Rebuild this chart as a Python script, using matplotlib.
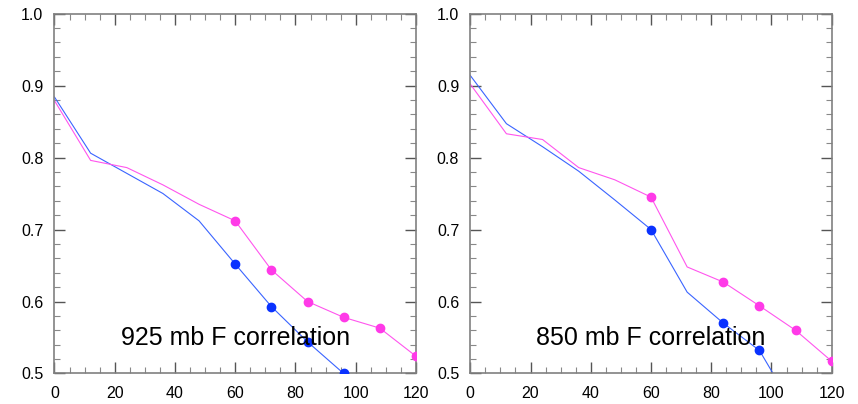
import matplotlib
matplotlib.use("Agg")
import matplotlib.pyplot as plt
from matplotlib.ticker import MultipleLocator

# Forecast hour
hours = [0, 12, 24, 36, 48, 60, 72, 84, 96, 108, 120]

# 925 mb correlation
blue_925 = [0.884, 0.806, 0.778, 0.750, 0.712, 0.652, 0.593, 0.544, 0.500, 0.455, 0.415]
mag_925 = [0.879, 0.796, 0.786, 0.762, 0.735, 0.712, 0.644, 0.600, 0.578, 0.563, 0.524]
marked_925 = [60, 72, 84, 96, 108, 120]

# 850 mb correlation
blue_850 = [0.914, 0.847, 0.815, 0.781, 0.741, 0.700, 0.613, 0.570, 0.532, 0.447, 0.400]
mag_850 = [0.902, 0.833, 0.825, 0.786, 0.769, 0.745, 0.648, 0.627, 0.594, 0.560, 0.517]
marked_850 = [60, 84, 96, 108, 120]

panel_titles = ["925 mb F correlation", "850 mb F correlation"]

BLUE_LINE = "#3a64ff"
BLUE_MARK = "#0a32ff"
MAG_LINE = "#ff55ee"
MAG_MARK = "#ff3ae8"

plt.rcParams["font.family"] = ["Liberation Sans", "DejaVu Sans"]

fig = plt.figure(figsize=(8.58, 4.04), dpi=100)
ax_l = fig.add_axes([0.0635, 0.0755, 0.4213, 0.891])
ax_r = fig.add_axes([0.5481, 0.0755, 0.4213, 0.891])

panels = [(ax_l, blue_925, mag_925, marked_925, panel_titles[0]),
          (ax_r, blue_850, mag_850, marked_850, panel_titles[1])]

for ax, blue, mag, marked, title in panels:
    ax.plot(hours, blue, color=BLUE_LINE, lw=0.8, zorder=2)
    ax.plot(hours, mag, color=MAG_LINE, lw=0.8, zorder=2)
    ax.plot(marked, [v for h, v in zip(hours, blue) if h in marked],
            ls="none", marker="o", ms=6, color=BLUE_MARK, zorder=3)
    ax.plot(marked, [v for h, v in zip(hours, mag) if h in marked],
            ls="none", marker="o", ms=6, color=MAG_MARK, zorder=3)

    ax.set_xlim(0, 120)
    ax.set_ylim(0.5, 1.0)
    ax.xaxis.set_major_locator(MultipleLocator(20))
    ax.xaxis.set_minor_locator(MultipleLocator(5))
    ax.yaxis.set_major_locator(MultipleLocator(0.1))
    ax.yaxis.set_minor_locator(MultipleLocator(0.02))
    ax.set_yticklabels([f"{v:.1f}" for v in ax.get_yticks()])
    ax.tick_params(which="both", direction="in", top=True, right=True,
                   labelsize=11.5, labelcolor="black")
    ax.tick_params(which="major", length=8, width=1.0, color="#555555")
    ax.tick_params(which="minor", length=4, width=0.8, color="#888888")
    ax.tick_params(axis="x", which="major", pad=9)
    ax.tick_params(axis="y", which="major", pad=8)
    for sp in ax.spines.values():
        sp.set_color("#808080")
        sp.set_linewidth(1.2)

    ax.text(60, 0.549, title, ha="center", va="center", fontsize=18,
            color="black", zorder=4)

fig.savefig("out.png", dpi=100)
